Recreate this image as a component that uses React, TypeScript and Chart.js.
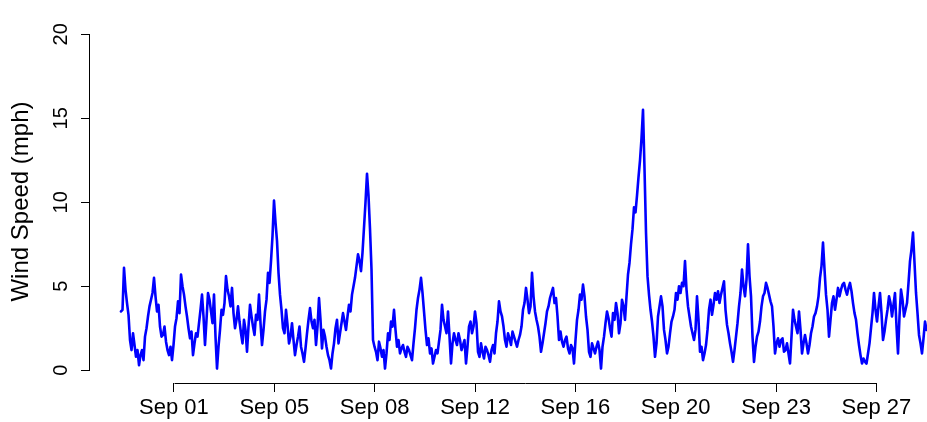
import { useEffect, useRef } from "react";
import { Chart, registerables } from "chart.js";

Chart.register(...registerables);

// Wind speed (mph), evenly spaced observations from late August to end of September
const WIND_SPEED: number[] = [
  3.5, 3.6, 6.1, 4.8, 4.0, 3.3, 1.8, 1.2, 2.2, 1.5, 0.8, 1.2, 0.3, 0.9, 1.2, 0.6, 2.0, 2.5, 3.2, 3.8,
  4.2, 4.6, 5.5, 4.4, 3.5, 3.9, 2.6, 2.0, 2.1, 2.6, 1.7, 1.2, 0.9, 1.4, 0.6, 1.5, 2.6, 3.1, 4.1, 3.4,
  5.7, 5.0, 4.5, 3.8, 3.2, 2.5, 1.9, 2.3, 0.9, 1.6, 2.2, 2.0, 2.8, 3.6, 4.5, 3.2, 1.5, 3.0, 4.6, 4.2,
  3.5, 2.8, 4.5, 2.0, 0.1, 1.4, 2.4, 3.6, 3.3, 4.0, 5.6, 4.8, 4.4, 3.8, 4.9, 3.4, 2.5, 3.0, 3.8, 2.9,
  2.2, 1.6, 3.0, 2.4, 1.1, 2.6, 3.9, 3.2, 2.6, 2.1, 3.3, 3.0, 4.5, 2.8, 1.5, 2.4, 3.5, 4.2, 5.8, 5.2,
  6.5, 8.0, 10.1, 8.8, 7.7, 5.8, 4.5, 3.6, 2.5, 2.2, 3.6, 2.7, 1.6, 2.0, 2.8, 1.8, 0.9, 1.5, 2.0, 2.6,
  1.4, 1.0, 0.5, 1.3, 2.2, 3.0, 3.7, 2.9, 2.5, 3.0, 1.5, 2.6, 4.3, 3.0, 1.3, 2.4, 2.0, 1.4, 0.9, 0.6,
  0.1, 1.0, 1.6, 2.5, 3.0, 1.6, 2.2, 2.8, 3.4, 2.9, 2.4, 3.2, 3.9, 3.5, 4.5, 5.0, 5.5, 6.2, 6.9, 6.5,
  5.9, 7.0, 8.5, 10.0, 11.7, 10.4, 8.4, 6.0, 1.8, 1.4, 1.1, 0.6, 1.7, 1.3, 0.8, 1.2, 0.1, 1.0, 2.2, 1.8,
  2.9, 2.6, 3.6, 2.4, 1.4, 1.8, 1.0, 1.3, 1.5, 1.1, 0.8, 1.4, 1.2, 0.9, 0.6, 1.6, 2.5, 3.6, 4.3, 4.8,
  5.5, 4.6, 3.5, 2.4, 1.5, 1.9, 1.0, 1.3, 0.4, 0.8, 1.2, 1.0, 1.7, 2.4, 3.9, 3.0, 2.6, 2.2, 3.5, 2.0,
  0.4, 1.6, 2.2, 1.8, 1.5, 2.2, 1.8, 1.2, 1.5, 1.8, 0.4, 1.4, 2.6, 2.9, 2.2, 2.6, 3.5, 2.8, 1.1, 0.8,
  1.6, 1.1, 0.7, 1.4, 1.2, 0.9, 0.5, 1.2, 1.5, 1.0, 2.2, 2.9, 4.1, 3.5, 3.2, 2.6, 1.8, 1.4, 2.2, 1.9,
  1.5, 2.3, 2.0, 1.7, 1.4, 1.8, 2.1, 2.6, 3.6, 4.0, 4.9, 4.2, 3.4, 3.8, 5.8, 4.4, 3.5, 3.0, 2.6, 2.0,
  1.1, 1.6, 2.2, 2.8, 3.5, 3.8, 4.3, 4.6, 4.9, 4.0, 4.3, 3.2, 1.8, 2.3, 1.7, 1.4, 1.8, 2.0, 1.3, 1.0,
  1.5, 1.3, 0.4, 1.8, 3.0, 3.6, 4.5, 4.2, 5.1, 4.4, 3.2, 2.4, 1.1, 0.8, 1.6, 1.3, 1.0, 1.4, 1.7, 1.2,
  0.1, 1.4, 2.0, 2.8, 3.5, 3.1, 2.5, 2.0, 3.4, 3.0, 4.0, 3.4, 2.2, 2.8, 4.2, 3.8, 3.0, 4.4, 5.7, 6.4,
  7.5, 8.4, 9.7, 9.4, 10.4, 11.5, 12.5, 13.8, 15.5, 12.0, 8.2, 5.6, 4.5, 3.6, 2.9, 2.0, 0.8, 1.6, 3.2, 3.8,
  4.4, 3.8, 2.4, 1.8, 1.0, 1.4, 2.2, 2.9, 3.2, 3.6, 4.6, 4.2, 5.0, 4.6, 5.2, 5.0, 6.5, 4.8, 3.8, 3.2,
  2.6, 2.2, 1.8, 2.4, 4.4, 3.0, 1.1, 1.4, 0.6, 1.0, 1.5, 2.4, 3.6, 4.2, 3.3, 3.9, 4.6, 4.2, 4.7, 4.0,
  4.5, 4.9, 5.3, 3.6, 2.7, 2.2, 1.6, 1.1, 0.5, 1.2, 2.0, 2.8, 3.8, 4.6, 6.0, 5.0, 4.4, 5.4, 7.5, 5.6,
  4.4, 2.0, 0.5, 1.4, 2.0, 2.3, 2.9, 3.8, 4.4, 4.6, 5.2, 4.9, 4.5, 4.1, 3.8, 2.6, 1.0, 1.6, 1.9, 1.4,
  1.8, 1.9, 1.1, 1.2, 1.6, 1.0, 0.4, 2.0, 3.6, 3.0, 2.6, 2.2, 3.5, 2.4, 1.0, 1.6, 2.1, 1.6, 1.0, 1.5,
  2.2, 2.6, 3.2, 3.4, 3.8, 4.4, 5.5, 6.2, 7.6, 6.0, 4.5, 3.6, 2.0, 3.0, 4.0, 4.4, 3.6, 4.2, 4.9, 4.4,
  4.8, 5.1, 5.2, 4.8, 4.5, 4.9, 5.2, 4.7, 4.0, 3.4, 3.0, 2.2, 1.5, 0.9, 0.4, 0.7, 0.5, 0.4, 1.0, 1.6,
  2.5, 3.4, 4.6, 3.6, 2.9, 3.8, 4.6, 3.4, 1.8, 2.3, 3.0, 3.6, 4.4, 4.0, 3.2, 3.9, 4.6, 2.6, 1.0, 3.2,
  4.8, 4.2, 3.2, 3.6, 4.0, 5.2, 6.5, 7.2, 8.2, 6.4, 4.6, 3.4, 2.1, 1.6, 1.0, 1.9, 2.9, 2.4, 2.6,
];

// Observation indices where the date ticks sit, and their labels
const TICK_POSITIONS: number[] = [35.3, 102.2, 169.1, 236.0, 302.9, 369.8, 436.7, 503.6];
const TICK_LABELS: string[] = ["Sep 01", "Sep 05", "Sep 08", "Sep 12", "Sep 16", "Sep 20", "Sep 23", "Sep 27"];
const Y_TICKS: number[] = [0, 5, 10, 15, 20];
const Y_TITLE = "Wind Speed (mph)";

const FONT = "'Liberation Sans', Arial, Helvetica, sans-serif";

export default function App() {
  const ref = useRef<HTMLCanvasElement | null>(null);

  useEffect(() => {
    if (!ref.current) return;
    const axisLines = {
      id: "axisLines",
      afterDraw(chart: any) {
        const { ctx, chartArea, scales } = chart;
        const xs = scales.x;
        const ys = scales.y;
        ctx.save();
        ctx.strokeStyle = "#000";
        ctx.lineWidth = 1;
        ctx.beginPath();
        const lx = Math.round(chartArea.left) - 0.5;
        ctx.moveTo(lx, Math.round(ys.getPixelForValue(Y_TICKS[0])) + 0.5);
        ctx.lineTo(lx, Math.round(ys.getPixelForValue(Y_TICKS[Y_TICKS.length - 1])) + 0.5);
        const by = Math.round(chartArea.bottom) + 0.5;
        ctx.moveTo(Math.round(xs.getPixelForValue(TICK_POSITIONS[0])) + 0.5, by);
        ctx.lineTo(Math.round(xs.getPixelForValue(TICK_POSITIONS[TICK_POSITIONS.length - 1])) + 0.5, by);
        ctx.stroke();
        ctx.restore();
      },
    };

    const chart = new Chart(ref.current, {
      type: "line",
      data: {
        datasets: [
          {
            data: WIND_SPEED.map((v, i) => ({ x: i, y: v })),
            borderColor: "#0000ff",
            borderWidth: 2.6,
            pointRadius: 0,
            tension: 0,
            fill: false,
            borderJoinStyle: "round",
            borderCapStyle: "round",
          },
        ],
      },
      options: {
        animation: false,
        responsive: false,
        layout: { padding: 0 },
        plugins: { legend: { display: false }, tooltip: { enabled: false } },
        scales: {
          x: {
            type: "linear",
            min: -20.67,
            max: 537.33,
            border: { display: false },
            grid: { display: true, drawOnChartArea: false, drawTicks: true, tickLength: 9, color: "#000", lineWidth: 1 },
            afterBuildTicks: (s: any) => {
              s.ticks = TICK_POSITIONS.map((v) => ({ value: v }));
            },
            afterFit: (s: any) => {
              s.height = 39;
            },
            ticks: {
              autoSkip: false,
              maxRotation: 0,
              minRotation: 0,
              padding: 3,
              color: "#000",
              font: { family: FONT, size: 22 },
              callback: (_v: any, i: number) => TICK_LABELS[i],
            },
          },
          y: {
            type: "linear",
            min: -0.76,
            max: 20.85,
            border: { display: false },
            grid: { display: true, drawOnChartArea: false, drawTicks: true, tickLength: 9, color: "#000", lineWidth: 1 },
            afterBuildTicks: (s: any) => {
              s.ticks = Y_TICKS.map((v) => ({ value: v }));
            },
            afterFit: (s: any) => {
              s.width = 90;
            },
            ticks: {
              minRotation: 90,
              maxRotation: 90,
              crossAlign: "center",
              padding: 8,
              color: "#000",
              font: { family: FONT, size: 20 },
              callback: (v: any) => String(v),
            },
            title: {
              display: true,
              text: Y_TITLE,
              color: "#000",
              font: { family: FONT, size: 24 },
              padding: { top: 7, bottom: 0 },
            },
          },
        },
      },
      plugins: [axisLines],
    } as any);
    return () => chart.destroy();
  }, []);

  return (
    <div style={{ position: "absolute", left: 0, top: 0, width: 927, height: 422, background: "#fff" }}>
      <canvas ref={ref} width={927} height={422} />
    </div>
  );
}
